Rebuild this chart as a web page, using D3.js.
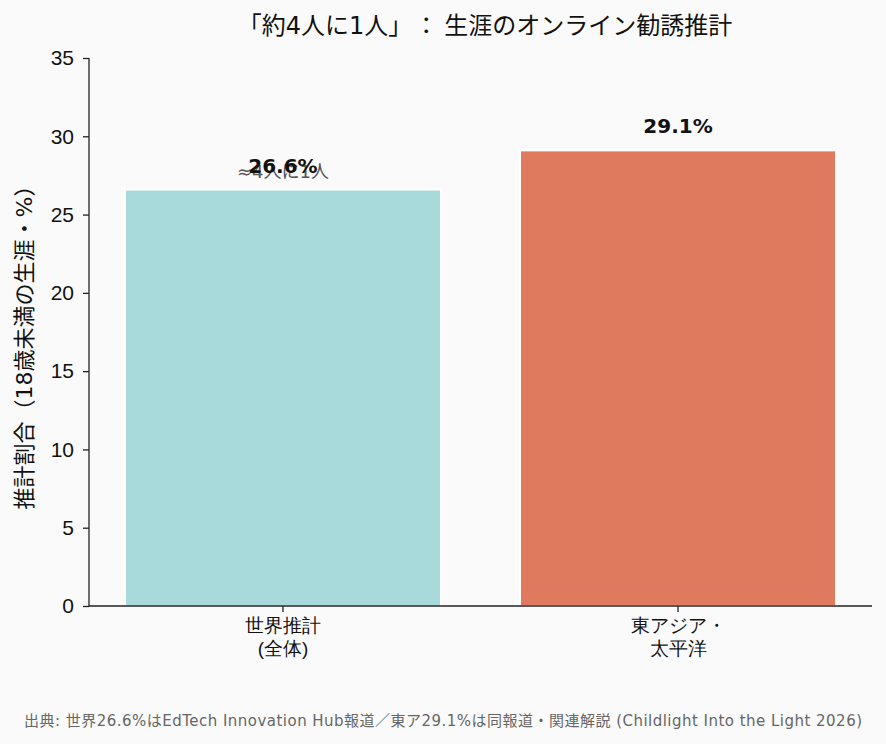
<!DOCTYPE html>
<html lang="ja">
<head>
<meta charset="utf-8">
<script src="https://cdn.jsdelivr.net/npm/d3@7"></script>
<style>
  body { margin: 0; background: #fafafa; }
  svg { font-family: "DejaVu Sans", "Noto Sans CJK JP", sans-serif; }
</style>
</head>
<body>
<svg id="chart" width="886" height="744"></svg>
<script>
// data
const categories = ["世界推計\n(全体)", "東アジア・\n太平洋"];
const values = [26.6, 29.1];
const barColors = ["#a8dadc", "#e07a5f"];
const yTicks = [0, 5, 10, 15, 20, 25, 30, 35];
const noteText = "≈4人に1人";

const svg = d3.select("#chart"),
  margin = { top: 58, right: 14, bottom: 138, left: 89 },
  width = +svg.attr("width") - margin.left - margin.right,
  height = +svg.attr("height") - margin.top - margin.bottom;

svg.append("rect").attr("width", 886).attr("height", 744).attr("fill", "#fafafa");

const g = svg.append("g").attr("transform", `translate(${margin.left},${margin.top})`);

const x = d3.scaleBand()
  .domain(categories)
  .range([0, width])
  .paddingInner(0.2)
  .paddingOuter(0.091);

const y = d3.scaleLinear().domain([0, 35]).range([height, 0]);

// bars
g.selectAll(".bar")
  .data(values)
  .enter()
  .append("rect")
  .attr("class", "bar")
  .attr("x", (d, i) => x(categories[i]))
  .attr("y", d => y(d))
  .attr("width", x.bandwidth())
  .attr("height", d => height - y(d))
  .attr("fill", (d, i) => barColors[i])
  .attr("stroke", "#ffffff")
  .attr("stroke-width", 2);

// y axis
const yAxis = g.append("g")
  .call(d3.axisLeft(y).tickValues(yTicks).tickSize(6).tickPadding(9));
yAxis.selectAll("text").style("font-size", "21px").attr("fill", "#111");
yAxis.selectAll("line, path").attr("stroke", "#222").attr("stroke-width", 1.3);
yAxis.select(".domain").attr("d", `M0,0V${height}`);

// x axis
const xAxis = g.append("g")
  .attr("transform", `translate(0,${height})`)
  .call(d3.axisBottom(x).tickSize(6).tickPadding(7));
xAxis.selectAll("line, path").attr("stroke", "#222").attr("stroke-width", 1.3);
xAxis.select(".domain").attr("d", `M0,0H${width}`);
xAxis.selectAll("text").each(function (d) {
  const t = d3.select(this).text("").style("font-size", "19px").attr("fill", "#111");
  d.split("\n").forEach((line, k) => {
    t.append("tspan").attr("x", 0).attr("dy", k === 0 ? "0.71em" : "1.2em").text(line);
  });
});

// annotation under first label (overlaps the value label, as in the original)
g.append("text")
  .attr("x", x(categories[0]) + x.bandwidth() / 2)
  .attr("y", y(values[0]) - 12)
  .attr("text-anchor", "middle")
  .attr("fill", "#555")
  .style("font-size", "18px")
  .text(noteText);

// value labels
g.selectAll(".bar-label")
  .data(values)
  .enter()
  .append("text")
  .attr("class", "bar-label")
  .attr("x", (d, i) => x(categories[i]) + x.bandwidth() / 2)
  .attr("y", d => y(d) - 17)
  .attr("text-anchor", "middle")
  .attr("fill", "#111")
  .style("font-size", "20px")
  .style("font-weight", "bold")
  .text(d => d.toFixed(1) + "%");

// y label
svg.append("text")
  .attr("transform", `translate(32,${margin.top + height / 2 + 10}) rotate(-90)`)
  .attr("text-anchor", "middle")
  .attr("fill", "#111")
  .style("font-size", "22px")
  .text("推計割合（18歳未満の生涯・%）");

// title
const title = svg.append("text")
  .attr("x", 485)
  .attr("y", 34)
  .attr("text-anchor", "middle")
  .attr("fill", "#111")
  .style("font-size", "24px");
title.append("tspan").text("「約4人に1人」");
title.append("tspan").attr("dx", 14).text("：");
title.append("tspan").attr("dx", 6).text("生涯のオンライン勧誘推計");

// source
svg.append("text")
  .attr("x", 443)
  .attr("y", 726)
  .attr("text-anchor", "middle")
  .attr("fill", "#666")
  .style("font-size", "15px")
  .attr("textLength", 838)
  .attr("lengthAdjust", "spacing")
  .text("出典: 世界26.6%はEdTech Innovation Hub報道／東ア29.1%は同報道・関連解説 (Childlight Into the Light 2026)");
</script>
</body>
</html>
